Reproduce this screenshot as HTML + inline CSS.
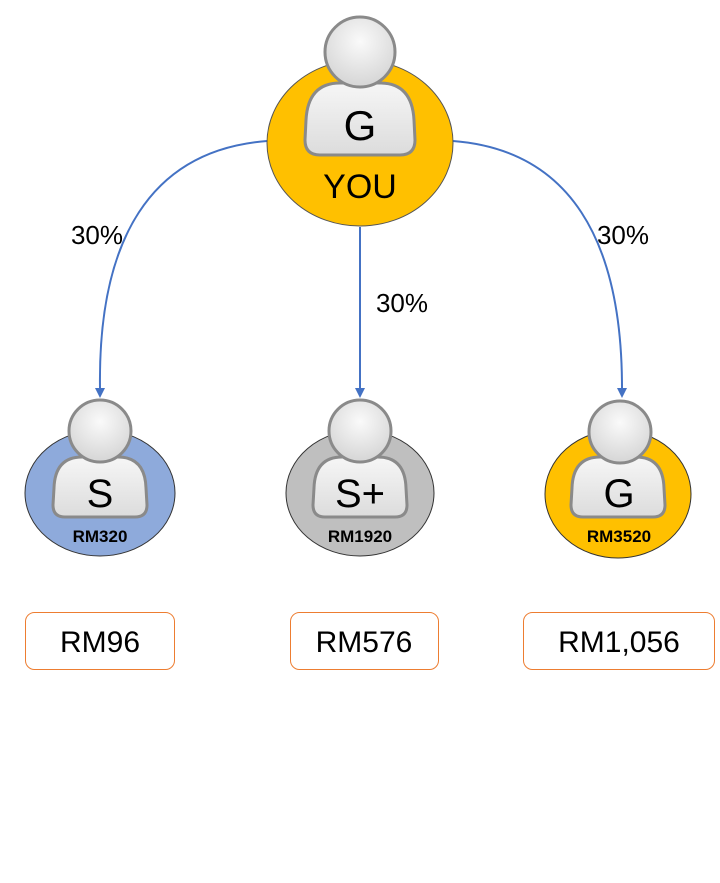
<!DOCTYPE html>
<html><head><style>body{margin:0;background:#fff}svg{display:block}text{font-family:"Liberation Sans",sans-serif}</style></head><body>
<svg width="720" height="883" viewBox="0 0 720 883" xmlns="http://www.w3.org/2000/svg">
<defs>
<radialGradient id="hg" cx="0.5" cy="0.35" r="0.6"><stop offset="0" stop-color="#fafafa"/><stop offset="1" stop-color="#d8d8d8"/></radialGradient>
<linearGradient id="bg" x1="0" y1="0" x2="0" y2="1"><stop offset="0" stop-color="#f6f6f6"/><stop offset="1" stop-color="#dcdcdc"/></linearGradient>
</defs>
<g stroke="#4472c4" stroke-width="2" fill="none">
<path d="M267,141 C150,150 98,240 100,388"/>
<path d="M360,227 L360,388"/>
<path d="M453,141 C570,150 622,240 622,388"/>
</g>
<g fill="#4472c4"><path d="M95,388 L105,388 L100,398 Z"/><path d="M355,388 L365,388 L360,398 Z"/><path d="M617,388 L627,388 L622,398 Z"/></g>

<ellipse cx="360" cy="143" rx="93" ry="83" fill="#ffc000" stroke="#555" stroke-width="1"/>
<path d="M340,83 L380,83 Q412,83 414,120 L415,140 Q415,155 400,155 L320,155 Q305,155 305,140 L306,120 Q308,83 340,83 Z" fill="url(#bg)" stroke="#8a8a8a" stroke-width="3"/>
<circle cx="360" cy="52" r="35" fill="url(#hg)" stroke="#8a8a8a" stroke-width="3"/>
<text x="360" y="140" font-size="42" text-anchor="middle">G</text>
<text x="360" y="198" font-size="34" text-anchor="middle">YOU</text>

<g>
<ellipse cx="100" cy="493" rx="75" ry="63" fill="#8eaadb" stroke="#333" stroke-width="1"/>
<path d="M82,457 L118,457 Q145,457 146,488 L147,505 Q147,517 135,517 L65,517 Q53,517 53,505 L54,488 Q55,457 82,457 Z" fill="url(#bg)" stroke="#8a8a8a" stroke-width="3"/>
<circle cx="100" cy="431" r="31" fill="url(#hg)" stroke="#8a8a8a" stroke-width="3"/>
<text x="100" y="507" font-size="40" text-anchor="middle">S</text>
<text x="100" y="542" font-size="17" font-weight="bold" text-anchor="middle">RM320</text>
</g>
<g>
<ellipse cx="360" cy="493" rx="74" ry="63" fill="#bfbfbf" stroke="#333" stroke-width="1"/>
<path d="M342,457 L378,457 Q405,457 406,488 L407,505 Q407,517 395,517 L325,517 Q313,517 313,505 L314,488 Q315,457 342,457 Z" fill="url(#bg)" stroke="#8a8a8a" stroke-width="3"/>
<circle cx="360" cy="431" r="31" fill="url(#hg)" stroke="#8a8a8a" stroke-width="3"/>
<text x="360" y="507" font-size="40" text-anchor="middle">S+</text>
<text x="360" y="542" font-size="17" font-weight="bold" text-anchor="middle">RM1920</text>
</g>
<g>
<ellipse cx="618" cy="494" rx="73" ry="64" fill="#ffc000" stroke="#333" stroke-width="1"/>
<path d="M600,457 L636,457 Q663,457 664,488 L665,505 Q665,517 653,517 L583,517 Q571,517 571,505 L572,488 Q573,457 600,457 Z" fill="url(#bg)" stroke="#8a8a8a" stroke-width="3"/>
<circle cx="620" cy="432" r="31" fill="url(#hg)" stroke="#8a8a8a" stroke-width="3"/>
<text x="619" y="507" font-size="40" text-anchor="middle">G</text>
<text x="619" y="542" font-size="17" font-weight="bold" text-anchor="middle">RM3520</text>
</g>

<g font-size="26" fill="#000">
<text x="97" y="244" text-anchor="middle">30%</text>
<text x="402" y="312" text-anchor="middle">30%</text>
<text x="623" y="244" text-anchor="middle">30%</text>
</g>

<g fill="#fff" stroke="#ed7d31" stroke-width="1">
<rect x="25.5" y="612.5" width="149" height="57" rx="9"/>
<rect x="290.5" y="612.5" width="148" height="57" rx="9"/>
<rect x="523.5" y="612.5" width="191" height="57" rx="9"/>
</g>
<g font-size="30" text-anchor="middle">
<text x="100" y="652">RM96</text>
<text x="364" y="652">RM576</text>
<text x="619" y="652">RM1,056</text>
</g>
</svg>
</body></html>
